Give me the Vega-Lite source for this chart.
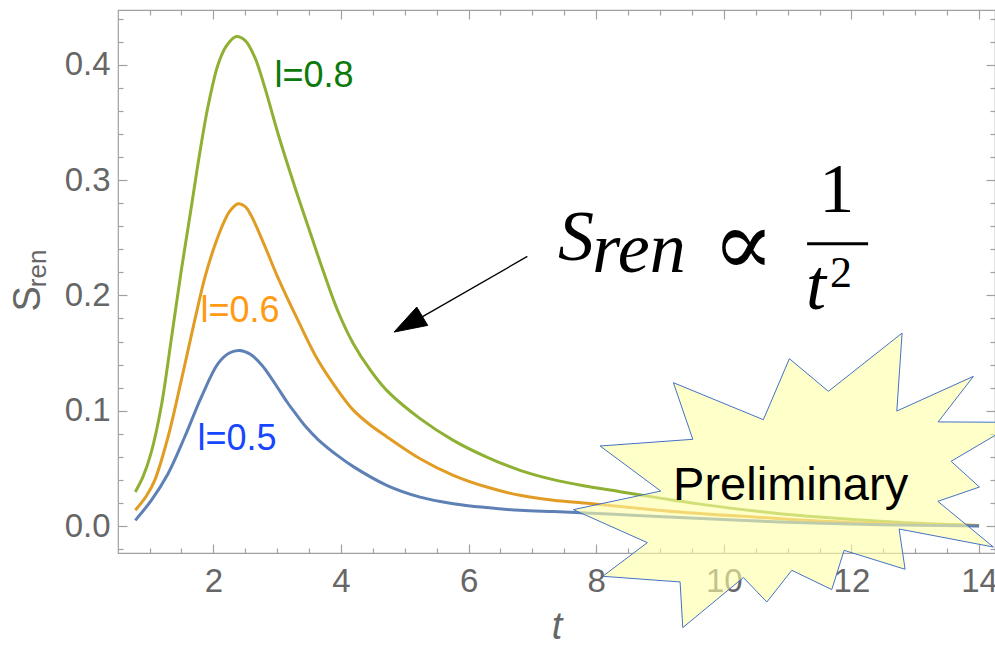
{
  "$schema": "https://vega.github.io/schema/vega-lite/v6.json",
  "width": 877,
  "height": 543,
  "autosize": {"type": "none"},
  "padding": {"left": 118, "top": 10, "right": 0, "bottom": 93},
  "config": {
    "view": {"stroke": "#a0a0a0", "strokeWidth": 1.2},
    "axis": {
      "grid": false,
      "domain": false,
      "tickColor": "#a0a0a0",
      "tickWidth": 1.2,
      "tickSize": -9,
      "labelFont": "Liberation Sans",
      "labelFontSize": 33,
      "labelColor": "#666666",
      "labelFlush": false,
      "labelOverlap": false
    }
  },
  "datasets": {
    "curves": [
      {"l": "0.8", "t": 0.777, "s": 0.0295}, {"l": "0.8", "t": 0.9, "s": 0.043}, {"l": "0.8", "t": 1.028, "s": 0.064},
      {"l": "0.8", "t": 1.185, "s": 0.104}, {"l": "0.8", "t": 1.341, "s": 0.162}, {"l": "0.8", "t": 1.498, "s": 0.2217},
      {"l": "0.8", "t": 1.655, "s": 0.2766}, {"l": "0.8", "t": 1.786, "s": 0.323}, {"l": "0.8", "t": 1.917, "s": 0.364},
      {"l": "0.8", "t": 2.073, "s": 0.4}, {"l": "0.8", "t": 2.2, "s": 0.416}, {"l": "0.8", "t": 2.36, "s": 0.4245},
      {"l": "0.8", "t": 2.5, "s": 0.421}, {"l": "0.8", "t": 2.649, "s": 0.4066}, {"l": "0.8", "t": 2.805, "s": 0.3806},
      {"l": "0.8", "t": 3.014, "s": 0.3402}, {"l": "0.8", "t": 3.275, "s": 0.2945}, {"l": "0.8", "t": 3.536, "s": 0.2515},
      {"l": "0.8", "t": 3.72, "s": 0.2215}, {"l": "0.8", "t": 3.954, "s": 0.186}, {"l": "0.8", "t": 4.194, "s": 0.1581},
      {"l": "0.8", "t": 4.45, "s": 0.136}, {"l": "0.8", "t": 4.717, "s": 0.1176}, {"l": "0.8", "t": 5.24, "s": 0.0931},
      {"l": "0.8", "t": 5.761, "s": 0.0743}, {"l": "0.8", "t": 6.285, "s": 0.0598}, {"l": "0.8", "t": 6.807, "s": 0.0483},
      {"l": "0.8", "t": 7.329, "s": 0.0402}, {"l": "0.8", "t": 7.8, "s": 0.035}, {"l": "0.8", "t": 8.374, "s": 0.0298},
      {"l": "0.8", "t": 9.0, "s": 0.0242}, {"l": "0.8", "t": 9.6, "s": 0.0192}, {"l": "0.8", "t": 10.88, "s": 0.0107},
      {"l": "0.8", "t": 11.66, "s": 0.0072}, {"l": "0.8", "t": 12.45, "s": 0.0042}, {"l": "0.8", "t": 13.2, "s": 0.002},
      {"l": "0.8", "t": 14.0, "s": 0.0005},

      {"l": "0.6", "t": 0.777, "s": 0.0136}, {"l": "0.6", "t": 0.95, "s": 0.026}, {"l": "0.6", "t": 1.081, "s": 0.0396},
      {"l": "0.6", "t": 1.29, "s": 0.0772}, {"l": "0.6", "t": 1.498, "s": 0.1263}, {"l": "0.6", "t": 1.708, "s": 0.1783},
      {"l": "0.6", "t": 1.87, "s": 0.216}, {"l": "0.6", "t": 2.021, "s": 0.243}, {"l": "0.6", "t": 2.178, "s": 0.265},
      {"l": "0.6", "t": 2.25, "s": 0.2725}, {"l": "0.6", "t": 2.387, "s": 0.2795}, {"l": "0.6", "t": 2.5, "s": 0.277},
      {"l": "0.6", "t": 2.595, "s": 0.269}, {"l": "0.6", "t": 2.805, "s": 0.243}, {"l": "0.6", "t": 3.0, "s": 0.217},
      {"l": "0.6", "t": 3.327, "s": 0.1783}, {"l": "0.6", "t": 3.641, "s": 0.1437}, {"l": "0.6", "t": 3.954, "s": 0.1175},
      {"l": "0.6", "t": 4.194, "s": 0.1005}, {"l": "0.6", "t": 4.45, "s": 0.088}, {"l": "0.6", "t": 4.717, "s": 0.0775},
      {"l": "0.6", "t": 5.24, "s": 0.0584}, {"l": "0.6", "t": 5.761, "s": 0.044}, {"l": "0.6", "t": 6.285, "s": 0.0338},
      {"l": "0.6", "t": 6.807, "s": 0.0266}, {"l": "0.6", "t": 7.329, "s": 0.0223}, {"l": "0.6", "t": 7.8, "s": 0.02},
      {"l": "0.6", "t": 8.374, "s": 0.017}, {"l": "0.6", "t": 9.31, "s": 0.0121}, {"l": "0.6", "t": 10.88, "s": 0.0064},
      {"l": "0.6", "t": 12.45, "s": 0.0021}, {"l": "0.6", "t": 14.0, "s": 0.0003},

      {"l": "0.5", "t": 0.777, "s": 0.0049}, {"l": "0.5", "t": 1.028, "s": 0.0223}, {"l": "0.5", "t": 1.29, "s": 0.0454},
      {"l": "0.5", "t": 1.551, "s": 0.0772}, {"l": "0.5", "t": 1.812, "s": 0.1118}, {"l": "0.5", "t": 2.073, "s": 0.1408},
      {"l": "0.5", "t": 2.25, "s": 0.15}, {"l": "0.5", "t": 2.413, "s": 0.1523}, {"l": "0.5", "t": 2.58, "s": 0.149},
      {"l": "0.5", "t": 2.752, "s": 0.14}, {"l": "0.5", "t": 2.9, "s": 0.129}, {"l": "0.5", "t": 3.014, "s": 0.1195},
      {"l": "0.5", "t": 3.15, "s": 0.108}, {"l": "0.5", "t": 3.275, "s": 0.0985}, {"l": "0.5", "t": 3.45, "s": 0.086},
      {"l": "0.5", "t": 3.641, "s": 0.075}, {"l": "0.5", "t": 3.954, "s": 0.0608}, {"l": "0.5", "t": 4.194, "s": 0.0515},
      {"l": "0.5", "t": 4.717, "s": 0.0353}, {"l": "0.5", "t": 5.24, "s": 0.0251}, {"l": "0.5", "t": 5.761, "s": 0.0194},
      {"l": "0.5", "t": 6.285, "s": 0.016}, {"l": "0.5", "t": 6.807, "s": 0.0136}, {"l": "0.5", "t": 7.329, "s": 0.0125},
      {"l": "0.5", "t": 7.75, "s": 0.0116}, {"l": "0.5", "t": 8.5, "s": 0.0095}, {"l": "0.5", "t": 9.31, "s": 0.0073},
      {"l": "0.5", "t": 10.88, "s": 0.0035}, {"l": "0.5", "t": 12.45, "s": 0.0012}, {"l": "0.5", "t": 14.0, "s": 0.0}
    ],
    "star": [
      {"i": 1, "t": 9.210, "s": 0.1243}, {"i": 2, "t": 10.620, "s": 0.0922}, {"i": 3, "t": 11.028, "s": 0.1451},
      {"i": 4, "t": 11.639, "s": 0.1168}, {"i": 5, "t": 12.794, "s": 0.1673}, {"i": 6, "t": 12.711, "s": 0.0997},
      {"i": 7, "t": 13.912, "s": 0.1298}, {"i": 8, "t": 13.359, "s": 0.0903}, {"i": 9, "t": 14.597, "s": 0.0899},
      {"i": 10, "t": 13.562, "s": 0.0561}, {"i": 11, "t": 14.006, "s": 0.0338}, {"i": 12, "t": 13.354, "s": 0.0214},
      {"i": 13, "t": 14.225, "s": -0.0182}, {"i": 14, "t": 12.747, "s": -0.0026}, {"i": 15, "t": 12.841, "s": -0.0375},
      {"i": 16, "t": 11.885, "s": -0.0211}, {"i": 17, "t": 11.692, "s": -0.0551}, {"i": 18, "t": 11.065, "s": -0.0384},
      {"i": 19, "t": 10.674, "s": -0.0659}, {"i": 20, "t": 10.307, "s": -0.0447}, {"i": 21, "t": 9.357, "s": -0.0881},
      {"i": 22, "t": 9.315, "s": -0.0485}, {"i": 23, "t": 8.103, "s": -0.0436}, {"i": 24, "t": 8.802, "s": -0.0144},
      {"i": 25, "t": 7.642, "s": 0.0142}, {"i": 26, "t": 9.012, "s": 0.0303}, {"i": 27, "t": 8.061, "s": 0.0694},
      {"i": 28, "t": 9.514, "s": 0.0752}
    ],
    "arrowhead": [
      {"i": 1, "t": 4.832, "s": 0.1682}, {"i": 2, "t": 5.188, "s": 0.1899}, {"i": 3, "t": 5.36, "s": 0.174}
    ]
  },
  "layer": [
    {
      "data": {"name": "curves"},
      "mark": {"type": "line", "strokeWidth": 3, "interpolate": "catmull-rom"},
      "encoding": {
        "x": {
          "field": "t", "type": "quantitative",
          "scale": {"domain": [0.506, 14.25], "nice": false, "zero": false},
          "axis": {
            "orient": "bottom",
            "values": [1, 1.5, 2, 2.5, 3, 3.5, 4, 4.5, 5, 5.5, 6, 6.5, 7, 7.5, 8, 8.5, 9, 9.5, 10, 10.5, 11, 11.5, 12, 12.5, 13, 13.5, 14],
            "labelExpr": "datum.value % 2 === 0 ? format(datum.value, 'd') : ''",
            "tickDash": {"condition": {"test": "datum.value % 2 === 0", "value": [9, 0]}, "value": [5, 40]},
            "labelPadding": 21,
            "title": "t",
            "titleFont": "Liberation Sans",
            "titleFontStyle": "italic",
            "titleFontWeight": "normal",
            "titleFontSize": 38,
            "titleColor": "#666666",
            "titlePadding": 10
          }
        },
        "y": {
          "field": "s", "type": "quantitative",
          "scale": {"domain": [-0.0234, 0.4475], "nice": false, "zero": false},
          "axis": {
            "orient": "left",
            "values": [-0.02, 0, 0.02, 0.04, 0.06, 0.08, 0.1, 0.12, 0.14, 0.16, 0.18, 0.2, 0.22, 0.24, 0.26, 0.28, 0.3, 0.32, 0.34, 0.36, 0.38, 0.4, 0.42, 0.44],
            "labelExpr": "abs(datum.value*10 - round(datum.value*10)) < 0.001 ? format(datum.value, '.1f') : ''",
            "tickDash": {"condition": {"test": "abs(datum.value*10 - round(datum.value*10)) < 0.001", "value": [9, 0]}, "value": [5, 40]},
            "labelPadding": 17,
            "title": null
          }
        },
        "color": {
          "field": "l", "type": "nominal",
          "scale": {"domain": ["0.5", "0.6", "0.8"], "range": ["#5e81b5", "#e19c24", "#8fb032"]},
          "legend": null
        }
      }
    },
    {
      "data": {"name": "curves"},
      "mark": {"type": "point", "opacity": 0},
      "encoding": {
        "x": {
          "field": "t", "type": "quantitative",
          "scale": {"domain": [0.506, 14.25], "nice": false, "zero": false},
          "axis": {
            "orient": "top",
            "values": [1, 1.5, 2, 2.5, 3, 3.5, 4, 4.5, 5, 5.5, 6, 6.5, 7, 7.5, 8, 8.5, 9, 9.5, 10, 10.5, 11, 11.5, 12, 12.5, 13, 13.5, 14],
            "labels": false,
            "tickDash": {"condition": {"test": "datum.value % 2 === 0", "value": [9, 0]}, "value": [5, 40]},
            "title": null
          }
        },
        "y": {
          "field": "s", "type": "quantitative",
          "scale": {"domain": [-0.0234, 0.4475], "nice": false, "zero": false},
          "axis": {
            "orient": "right",
            "values": [-0.02, 0, 0.02, 0.04, 0.06, 0.08, 0.1, 0.12, 0.14, 0.16, 0.18, 0.2, 0.22, 0.24, 0.26, 0.28, 0.3, 0.32, 0.34, 0.36, 0.38, 0.4, 0.42, 0.44],
            "labels": false,
            "tickDash": {"condition": {"test": "abs(datum.value*10 - round(datum.value*10)) < 0.001", "value": [9, 0]}, "value": [5, 40]},
            "title": null
          }
        }
      }
    },
    {
      "data": {"values": [
        {"t": 2.957, "s": 0.3806, "text": "l=0.8", "c": "#0b7a0b"},
        {"t": 1.80, "s": 0.1769, "text": "l=0.6", "c": "#ff9a12"},
        {"t": 1.75, "s": 0.0656, "text": "l=0.5", "c": "#1746ff"}
      ]},
      "mark": {"type": "text", "font": "Liberation Sans", "fontSize": 36, "align": "left", "baseline": "alphabetic"},
      "encoding": {
        "x": {"field": "t", "type": "quantitative", "scale": {"domain": [0.506, 14.25], "nice": false, "zero": false}, "axis": null},
        "y": {"field": "s", "type": "quantitative", "scale": {"domain": [-0.0234, 0.4475], "nice": false, "zero": false}, "axis": null},
        "text": {"field": "text"},
        "color": {"field": "c", "type": "nominal", "scale": null}
      }
    },
    {
      "data": {"values": [{"t": -0.889, "s": 0.197, "text": "S"}]},
      "mark": {"type": "text", "font": "Liberation Sans", "fontSize": 38, "angle": 270, "align": "center", "baseline": "middle", "color": "#666666"},
      "encoding": {
        "x": {"field": "t", "type": "quantitative", "scale": {"domain": [0.506, 14.25], "nice": false, "zero": false}, "axis": null},
        "y": {"field": "s", "type": "quantitative", "scale": {"domain": [-0.0234, 0.4475], "nice": false, "zero": false}, "axis": null},
        "text": {"field": "text"}
      }
    },
    {
      "data": {"values": [{"t": -0.748, "s": 0.2234, "text": "ren"}]},
      "mark": {"type": "text", "font": "Liberation Sans", "fontSize": 26, "angle": 270, "align": "center", "baseline": "middle", "color": "#666666"},
      "encoding": {
        "x": {"field": "t", "type": "quantitative", "scale": {"domain": [0.506, 14.25], "nice": false, "zero": false}, "axis": null},
        "y": {"field": "s", "type": "quantitative", "scale": {"domain": [-0.0234, 0.4475], "nice": false, "zero": false}, "axis": null},
        "text": {"field": "text"}
      }
    },
    {
      "data": {"values": [
        {"t": 7.402, "s": 0.2303, "text": "S"},
        {"t": 7.94, "s": 0.2202, "text": "ren"},
        {"t": 11.29, "s": 0.1885, "text": "t"}
      ]},
      "mark": {"type": "text", "font": "Liberation Serif", "fontStyle": "italic", "fontSize": 72, "align": "left", "baseline": "alphabetic", "color": "#000000"},
      "encoding": {
        "x": {"field": "t", "type": "quantitative", "scale": {"domain": [0.506, 14.25], "nice": false, "zero": false}, "axis": null},
        "y": {"field": "s", "type": "quantitative", "scale": {"domain": [-0.0234, 0.4475], "nice": false, "zero": false}, "axis": null},
        "text": {"field": "text"}
      }
    },
    {
      "data": {"values": [{"t": 11.771, "s": 0.2722, "text": "1"}]},
      "mark": {"type": "text", "font": "Liberation Serif", "fontSize": 70, "align": "center", "baseline": "alphabetic", "color": "#000000"},
      "encoding": {
        "x": {"field": "t", "type": "quantitative", "scale": {"domain": [0.506, 14.25], "nice": false, "zero": false}, "axis": null},
        "y": {"field": "s", "type": "quantitative", "scale": {"domain": [-0.0234, 0.4475], "nice": false, "zero": false}, "axis": null},
        "text": {"field": "text"}
      }
    },
    {
      "data": {"values": [{"t": 11.666, "s": 0.2072, "text": "2"}]},
      "mark": {"type": "text", "font": "Liberation Serif", "fontSize": 44, "align": "left", "baseline": "alphabetic", "color": "#000000"},
      "encoding": {
        "x": {"field": "t", "type": "quantitative", "scale": {"domain": [0.506, 14.25], "nice": false, "zero": false}, "axis": null},
        "y": {"field": "s", "type": "quantitative", "scale": {"domain": [-0.0234, 0.4475], "nice": false, "zero": false}, "axis": null},
        "text": {"field": "text"}
      }
    },
    {
      "data": {"values": [{"t": 10.307, "s": 0.2419, "text": "∝"}]},
      "mark": {"type": "text", "font": "DejaVu Serif", "fontSize": 92, "align": "center", "baseline": "middle", "color": "#000000"},
      "encoding": {
        "x": {"field": "t", "type": "quantitative", "scale": {"domain": [0.506, 14.25], "nice": false, "zero": false}, "axis": null},
        "y": {"field": "s", "type": "quantitative", "scale": {"domain": [-0.0234, 0.4475], "nice": false, "zero": false}, "axis": null},
        "text": {"field": "text"}
      }
    },
    {
      "data": {"values": [{"t": 11.305, "t2": 12.261, "s": 0.2448}]},
      "mark": {"type": "rule", "strokeWidth": 2.8, "color": "#000000"},
      "encoding": {
        "x": {"field": "t", "type": "quantitative", "scale": {"domain": [0.506, 14.25], "nice": false, "zero": false}, "axis": null},
        "x2": {"field": "t2"},
        "y": {"field": "s", "type": "quantitative", "scale": {"domain": [-0.0234, 0.4475], "nice": false, "zero": false}, "axis": null}
      }
    },
    {
      "data": {"values": [{"t": 6.921, "s": 0.2338, "t2": 5.266, "s2": 0.1812}]},
      "mark": {"type": "rule", "strokeWidth": 1.3, "color": "#000000"},
      "encoding": {
        "x": {"field": "t", "type": "quantitative", "scale": {"domain": [0.506, 14.25], "nice": false, "zero": false}, "axis": null},
        "x2": {"field": "t2"},
        "y": {"field": "s", "type": "quantitative", "scale": {"domain": [-0.0234, 0.4475], "nice": false, "zero": false}, "axis": null},
        "y2": {"field": "s2"}
      }
    },
    {
      "data": {"name": "arrowhead"},
      "mark": {"type": "line", "interpolate": "linear-closed", "fill": "#000000", "stroke": "#000000", "strokeWidth": 1},
      "encoding": {
        "x": {"field": "t", "type": "quantitative", "scale": {"domain": [0.506, 14.25], "nice": false, "zero": false}, "axis": null},
        "y": {"field": "s", "type": "quantitative", "scale": {"domain": [-0.0234, 0.4475], "nice": false, "zero": false}, "axis": null},
        "order": {"field": "i", "type": "quantitative"}
      }
    },
    {
      "data": {"name": "star"},
      "mark": {"type": "line", "interpolate": "linear-closed", "fill": "#ffffa6", "fillOpacity": 0.6, "stroke": "#4472c4", "strokeWidth": 1},
      "encoding": {
        "x": {"field": "t", "type": "quantitative", "scale": {"domain": [0.506, 14.25], "nice": false, "zero": false}, "axis": null},
        "y": {"field": "s", "type": "quantitative", "scale": {"domain": [-0.0234, 0.4475], "nice": false, "zero": false}, "axis": null},
        "order": {"field": "i", "type": "quantitative"}
      }
    },
    {
      "data": {"values": [{"t": 11.047, "s": 0.0223, "text": "Preliminary"}]},
      "mark": {"type": "text", "font": "Liberation Sans", "fontSize": 47, "align": "center", "baseline": "alphabetic", "color": "#000000"},
      "encoding": {
        "x": {"field": "t", "type": "quantitative", "scale": {"domain": [0.506, 14.25], "nice": false, "zero": false}, "axis": null},
        "y": {"field": "s", "type": "quantitative", "scale": {"domain": [-0.0234, 0.4475], "nice": false, "zero": false}, "axis": null},
        "text": {"field": "text"}
      }
    }
  ],
  "resolve": {"axis": {"x": "independent", "y": "independent"}}
}
